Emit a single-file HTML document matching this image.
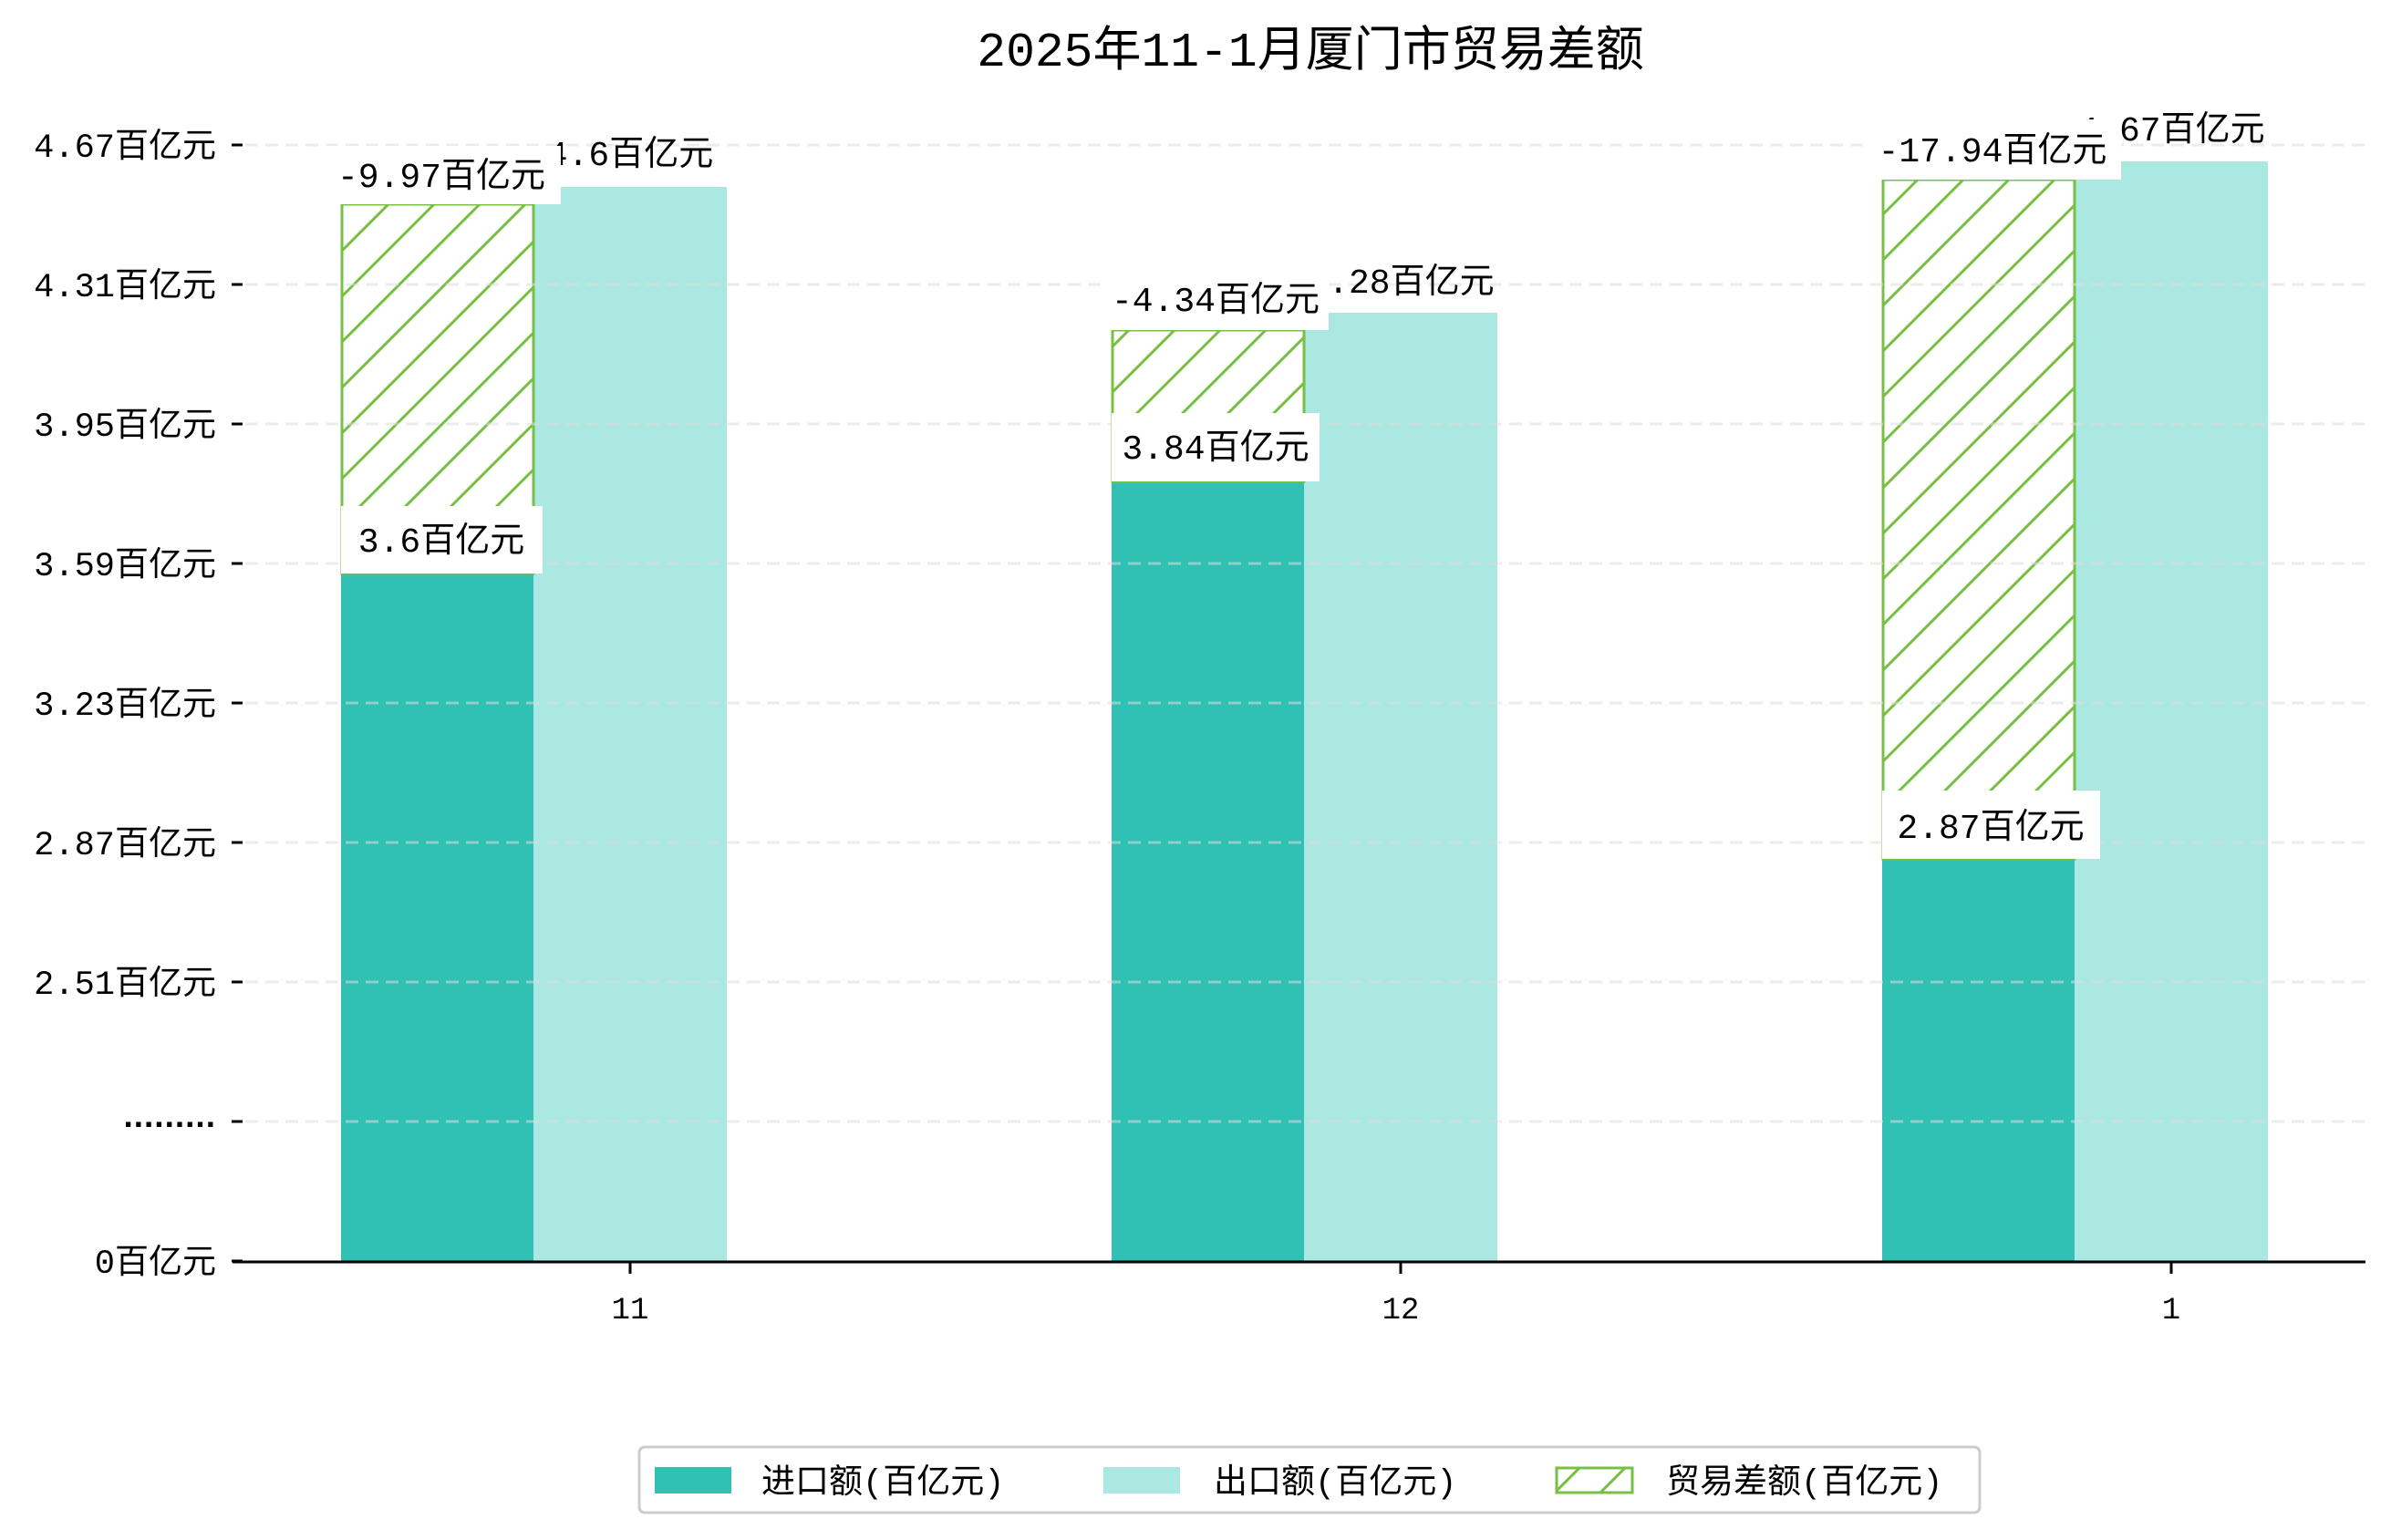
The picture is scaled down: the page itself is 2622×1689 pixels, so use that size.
<!DOCTYPE html>
<html><head><meta charset="utf-8"><style>
html,body{margin:0;padding:0;background:#fff;}
svg{display:block;}
text{font-family:"Liberation Mono","Noto Sans CJK SC",monospace;fill:#000;}
</style></head><body>
<svg width="2622" height="1689" viewBox="0 0 2622 1689" xmlns="http://www.w3.org/2000/svg">
<defs>
<pattern id="h" patternUnits="userSpaceOnUse" width="50" height="50">
<path d="M-5,55 L55,-5 M-30,30 L30,-30 M20,80 L80,20" stroke="#77c043" stroke-width="3"/>
</pattern>
</defs>
<text x="1437" y="72" font-size="53" text-anchor="middle">2025年11-1月厦门市贸易差额</text>

<rect x="374" y="629" width="211" height="754" fill="#31c1b4"/>
<rect x="585" y="205" width="212" height="1178" fill="#aae8e1"/>
<rect x="1219" y="528" width="211" height="855" fill="#31c1b4"/>
<rect x="1430" y="343" width="212" height="1040" fill="#aae8e1"/>
<rect x="2064" y="942" width="211" height="441" fill="#31c1b4"/>
<rect x="2275" y="177" width="212" height="1206" fill="#aae8e1"/>

<g stroke="#77c043" stroke-width="3">
<rect x="375" y="224" width="210" height="405" fill="url(#h)"/>
<rect x="1220" y="362" width="210" height="166" fill="url(#h)"/>
<rect x="2065" y="197" width="210" height="745" fill="url(#h)"/>
</g>

<g stroke="#dddddd" stroke-opacity="0.55" stroke-width="3" stroke-dasharray="14,8">
<line x1="269" y1="159" x2="2594" y2="159"/>
<line x1="269" y1="312" x2="2594" y2="312"/>
<line x1="269" y1="465" x2="2594" y2="465"/>
<line x1="269" y1="618" x2="2594" y2="618"/>
<line x1="269" y1="771" x2="2594" y2="771"/>
<line x1="269" y1="924" x2="2594" y2="924"/>
<line x1="269" y1="1077" x2="2594" y2="1077"/>
<line x1="269" y1="1230" x2="2594" y2="1230"/>
</g>

<g font-size="38" text-anchor="middle">
<text x="691" y="181">4.6百亿元</text>
<text x="1536" y="321">4.28百亿元</text>
<text x="2381" y="154">4.67百亿元</text>
</g>
<g fill="#fff">
<rect x="353" y="160" width="262" height="64"/>
<rect x="374" y="555" width="221" height="74"/>
<rect x="1210" y="296" width="247" height="66"/>
<rect x="1219" y="453" width="228" height="75"/>
<rect x="2044" y="131" width="282" height="66"/>
<rect x="2064" y="867" width="239" height="75"/>
</g>
<g font-size="38" text-anchor="middle">
<text x="484" y="205">-9.97百亿元</text>
<text x="484" y="605">3.6百亿元</text>
<text x="1333" y="341">-4.34百亿元</text>
<text x="1333" y="503">3.84百亿元</text>
<text x="2185" y="177">-17.94百亿元</text>
<text x="2183" y="919">2.87百亿元</text>
</g>

<line x1="255" y1="1384" x2="2594" y2="1384" stroke="#000" stroke-width="3"/>
<g stroke="#000" stroke-width="3">
<line x1="254" y1="159" x2="266" y2="159"/>
<line x1="254" y1="312" x2="266" y2="312"/>
<line x1="254" y1="465" x2="266" y2="465"/>
<line x1="254" y1="618" x2="266" y2="618"/>
<line x1="254" y1="771" x2="266" y2="771"/>
<line x1="254" y1="924" x2="266" y2="924"/>
<line x1="254" y1="1077" x2="266" y2="1077"/>
<line x1="254" y1="1230" x2="266" y2="1230"/>
<line x1="254" y1="1383" x2="266" y2="1383"/>
<line x1="691" y1="1384" x2="691" y2="1397"/>
<line x1="1536" y1="1384" x2="1536" y2="1397"/>
<line x1="2381" y1="1384" x2="2381" y2="1397"/>
</g>
<g font-size="37" text-anchor="end">
<text x="237" y="172">4.67百亿元</text>
<text x="237" y="325">4.31百亿元</text>
<text x="237" y="478">3.95百亿元</text>
<text x="237" y="631">3.59百亿元</text>
<text x="237" y="784">3.23百亿元</text>
<text x="237" y="937">2.87百亿元</text>
<text x="237" y="1090">2.51百亿元</text>
<text x="237" y="1236" style="font-family:'Liberation Sans',sans-serif;font-weight:bold" letter-spacing="1">.........</text>
<text x="237" y="1396">0百亿元</text>
</g>
<g font-size="34" text-anchor="middle">
<text x="691" y="1446">11</text>
<text x="1536" y="1446">12</text>
<text x="2381" y="1446">1</text>
</g>

<g transform="translate(0,-8)">
<rect x="701" y="1595" width="1470" height="72" rx="6" fill="#fff" stroke="#cccccc" stroke-width="3"/>
<rect x="718" y="1617" width="84" height="29" fill="#31c1b4"/>
<rect x="1210" y="1617" width="84" height="29" fill="#aae8e1"/>
<rect x="1707" y="1618" width="83" height="27" fill="url(#h)" stroke="#77c043" stroke-width="3"/>
<g font-size="37">
<text x="835" y="1645">进口额(百亿元)</text>
<text x="1331" y="1645">出口额(百亿元)</text>
<text x="1827" y="1645">贸易差额(百亿元)</text>
</g>
</g>
</svg>
</body></html>
